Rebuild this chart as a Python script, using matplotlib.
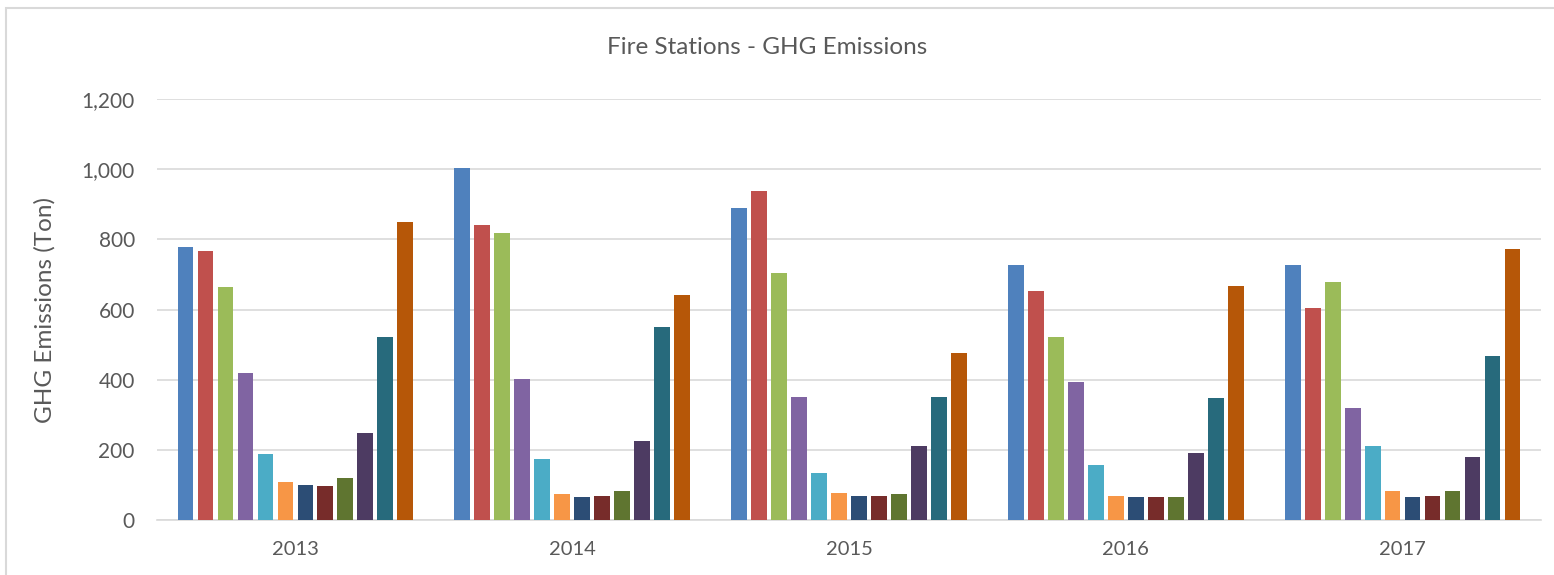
import matplotlib
matplotlib.use("Agg")
import matplotlib.pyplot as plt
from matplotlib.patches import Rectangle
from matplotlib.ticker import FuncFormatter
import numpy as np

# ---------------------------------------------------------------------------
# Data
# ---------------------------------------------------------------------------
years = ["2013", "2014", "2015", "2016", "2017"]
stations = [f"Station {i}" for i in range(1, 13)]

station_1 = [777, 1003, 889, 727, 727]
station_2 = [767, 841, 938, 654, 604]
station_3 = [663, 819, 703, 522, 677]
station_4 = [420, 402, 352, 394, 320]
station_5 = [188, 174, 133, 156, 211]
station_6 = [109, 73, 78, 68, 83]
station_7 = [101, 65, 69, 65, 65]
station_8 = [96, 69, 69, 65, 69]
station_9 = [119, 83, 74, 65, 83]
station_10 = [247, 225, 211, 192, 179]
station_11 = [522, 549, 352, 347, 467]
station_12 = [850, 640, 476, 667, 773]

series = [station_1, station_2, station_3, station_4, station_5, station_6,
          station_7, station_8, station_9, station_10, station_11, station_12]

colors = ["#4F81BD", "#C0504D", "#9BBB59", "#8064A2", "#4BACC6", "#F79646",
          "#2C4D75", "#772C2A", "#5F7530", "#4D3B62", "#276A7C", "#B65708"]

# ---------------------------------------------------------------------------
# Plot
# ---------------------------------------------------------------------------
plt.rcParams["font.family"] = ["Lato", "DejaVu Sans"]
TEXT = "#595959"

fig = plt.figure(figsize=(15.54, 5.75), dpi=100)
ax = fig.add_axes([157 / 1554, 1 - 520 / 575, (1541 - 157) / 1554, (520 - 99) / 575])

x = np.arange(len(years))
pitch = 0.0722
width = 0.057
for j, (vals, col) in enumerate(zip(series, colors)):
    ax.bar(x + (j - 5.5) * pitch, vals, width=width, color=col,
           label=stations[j], zorder=3)

ax.set_xlim(-0.5, len(years) - 0.5)
ax.set_ylim(0, 1200)
ax.set_yticks(np.arange(0, 1201, 200))
ax.yaxis.set_major_formatter(FuncFormatter(lambda v, _: f"{int(v):,}"))
ax.set_xticks(x)
ax.set_xticklabels(years)

ax.grid(axis="y", color="#D9D9D9", linewidth=1.2, zorder=0)
for s in ["top", "right", "left"]:
    ax.spines[s].set_visible(False)
ax.spines["bottom"].set_color("#D9D9D9")
ax.spines["bottom"].set_linewidth(1.2)
ax.tick_params(axis="both", length=0, colors=TEXT)
ax.tick_params(axis="y", pad=16, labelsize=15)
ax.tick_params(axis="x", pad=15, labelsize=14.5)

fig.text(45 / 1554, 1 - 310 / 575, "GHG Emissions (Ton)", rotation=90,
         ha="center", va="center", fontsize=17.5, color=TEXT)
fig.text(767 / 1554, 1 - 48 / 575, "Fire Stations - GHG Emissions",
         ha="center", va="center", fontsize=17.5, color=TEXT)

# chart border (light gray frame, right/bottom cropped)
fig.add_artist(Rectangle((6 / 1554, -0.05), 1.2, 1 - 8 / 575 + 0.05,
                         transform=fig.transFigure, fill=False,
                         edgecolor="#D9D9D9", linewidth=1.5))

fig.savefig("out.png", dpi=100)
plt.close(fig)
